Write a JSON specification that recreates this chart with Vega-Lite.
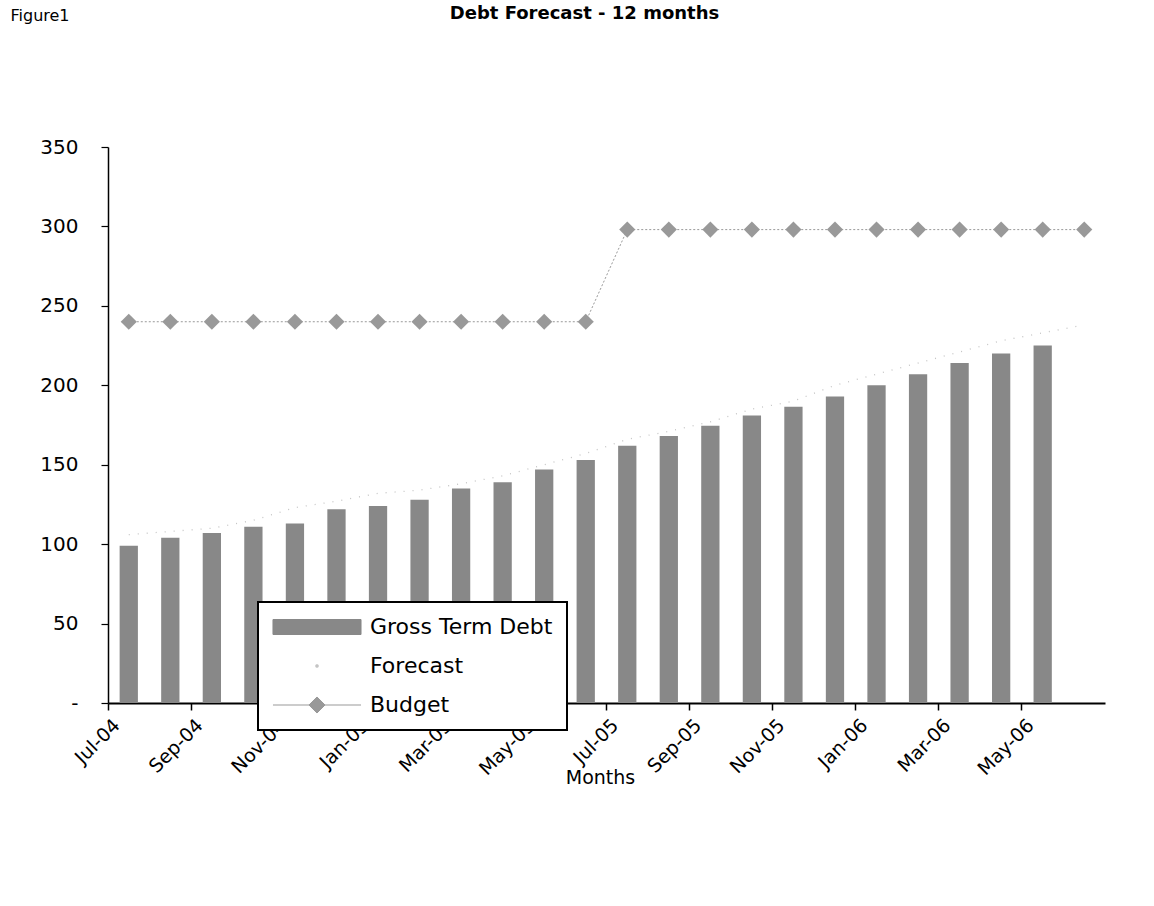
{
  "$schema": "https://vega.github.io/schema/vega-lite/v6.json",
  "autosize": {"type": "none"},
  "width": 997,
  "height": 556,
  "padding": {"left": 108, "top": 147, "right": 49, "bottom": 203},
  "background": "white",
  "title": {"text": "Debt Forecast - 12 months", "anchor": "middle", "frame": "group", "dx": -22, "offset": -16, "fontSize": 18, "fontWeight": "bold", "font": "DejaVu Sans", "color": "black"},
  "config": {"view": {"stroke": null}, "font": "DejaVu Sans"},
  "data": {"values": [
    {"month": "Jul-04", "debt": 99, "forecast": 106, "budget": 240},
    {"month": "Aug-04", "debt": 104, "forecast": 108, "budget": 240},
    {"month": "Sep-04", "debt": 107, "forecast": 110, "budget": 240},
    {"month": "Oct-04", "debt": 111, "forecast": 115, "budget": 240},
    {"month": "Nov-04", "debt": 113, "forecast": 123, "budget": 240},
    {"month": "Dec-04", "debt": 122, "forecast": 127, "budget": 240},
    {"month": "Jan-05", "debt": 124, "forecast": 132, "budget": 240},
    {"month": "Feb-05", "debt": 128, "forecast": 134, "budget": 240},
    {"month": "Mar-05", "debt": 135, "forecast": 138, "budget": 240},
    {"month": "Apr-05", "debt": 139, "forecast": 143, "budget": 240},
    {"month": "May-05", "debt": 147, "forecast": 150, "budget": 240},
    {"month": "Jun-05", "debt": 153, "forecast": 157, "budget": 240},
    {"month": "Jul-05", "debt": 162, "forecast": 166, "budget": 298},
    {"month": "Aug-05", "debt": 168, "forecast": 171, "budget": 298},
    {"month": "Sep-05", "debt": 174.5, "forecast": 177, "budget": 298},
    {"month": "Oct-05", "debt": 181, "forecast": 185, "budget": 298},
    {"month": "Nov-05", "debt": 186.5, "forecast": 190, "budget": 298},
    {"month": "Dec-05", "debt": 193, "forecast": 200, "budget": 298},
    {"month": "Jan-06", "debt": 200, "forecast": 207, "budget": 298},
    {"month": "Feb-06", "debt": 207, "forecast": 214, "budget": 298},
    {"month": "Mar-06", "debt": 214, "forecast": 221, "budget": 298},
    {"month": "Apr-06", "debt": 220, "forecast": 228, "budget": 298},
    {"month": "May-06", "debt": 225, "forecast": 233, "budget": 298},
    {"month": "Jun-06", "debt": null, "forecast": 238, "budget": 298}
  ]},
  "encoding": {
    "x": {
      "field": "month", "type": "ordinal", "sort": null,
      "scale": {"paddingInner": 0.56, "paddingOuter": 0.28},
      "axis": {
        "title": "Months",
        "values": ["Jul-04", "Sep-04", "Nov-04", "Jan-05", "Mar-05", "May-05", "Jul-05", "Sep-05", "Nov-05", "Jan-06", "Mar-06", "May-06"],
        "bandPosition": -0.636,
        "labelAngle": -45, "labelAlign": "right", "labelBaseline": "middle",
        "labelOffset": -12, "labelPadding": 12,
        "labelFontSize": 19, "labelFont": "DejaVu Sans", "labelColor": "black",
        "labelOverlap": false, "labelBound": false,
        "tickColor": "black", "tickSize": 7, "tickWidth": 1.5,
        "domainColor": "black", "domainWidth": 2,
        "grid": false,
        "titleFontSize": 19, "titleFontWeight": "normal", "titleFont": "DejaVu Sans", "titleColor": "black",
        "titleX": 492, "titleY": 80, "titleBaseline": "alphabetic"
      }
    }
  },
  "layer": [
    {
      "mark": {"type": "bar"},
      "encoding": {
        "y": {
          "field": "debt", "type": "quantitative", "title": "Figure1",
          "scale": {"domain": [0, 350], "nice": false},
          "axis": {
            "title": "Figure1", "titleAngle": 0, "titleX": -98, "titleY": -140,
            "titleAlign": "left", "titleBaseline": "top",
            "titleFontSize": 16, "titleFontWeight": "normal", "titleFont": "DejaVu Sans", "titleColor": "black",
            "values": [0, 50, 100, 150, 200, 250, 300, 350],
            "labelExpr": "datum.value === 0 ? '-\u00a0\u00a0\u00a0\u00a0\u00a0' : datum.label",
            "labelFontSize": 20, "labelFont": "DejaVu Sans", "labelColor": "black", "labelPadding": 23,
            "tickSize": 7, "tickColor": "black", "tickWidth": 1.2,
            "domainColor": "black", "domainWidth": 1.5,
            "grid": false
          }
        },
        "color": {
          "datum": "Gross Term Debt",
          "scale": {"domain": ["Gross Term Debt", "Forecast", "Budget"], "range": ["#888888", "#c4c4c4", "#999999"]},
          "legend": {
            "title": null, "orient": "none", "legendX": 150, "legendY": 455, "direction": "vertical",
            "strokeColor": "black", "fillColor": "white", "padding": 14,
            "symbolSize": 225, "symbolOffset": 34, "labelOffset": 42, "rowPadding": 17,
            "labelFontSize": 22, "labelFont": "DejaVu Sans", "labelColor": "black", "labelLimit": 400,
            "encoding": {
              "legend": {"strokeWidth": {"value": 2}},
              "symbols": {
                "shape": {"value": {"expr": "datum.value === 'Gross Term Debt' ? 'M-5.87,-1H5.87V1H-5.87Z' : datum.value === 'Forecast' ? 'M-0.15,-0.15H0.15V0.15H-0.15Z' : 'M-5.87,0H5.87M-1.07,0L0,-1.07L1.07,0L0,1.07Z'"}},
                "fill": {"value": {"expr": "datum.value === 'Gross Term Debt' ? '#888888' : datum.value === 'Forecast' ? '#777777' : '#999999'"}},
                "stroke": {"value": {"expr": "datum.value === 'Budget' ? '#888888' : 'transparent'"}},
                "strokeWidth": {"value": 1},
                "size": {"value": 225},
                "opacity": {"value": 1}
              }
            }
          }
        }
      }
    },
    {
      "mark": {"type": "line", "strokeDash": [1, 8], "strokeWidth": 1.3},
      "encoding": {
        "y": {"field": "forecast", "type": "quantitative", "title": "Figure1"},
        "color": {"datum": "Forecast"}
      }
    },
    {
      "mark": {"type": "line", "strokeDash": [2, 2], "strokeWidth": 1, "point": {"shape": "diamond", "size": 260, "filled": true}},
      "encoding": {
        "y": {"field": "budget", "type": "quantitative", "title": "Figure1"},
        "color": {"datum": "Budget"}
      }
    }
  ]
}
